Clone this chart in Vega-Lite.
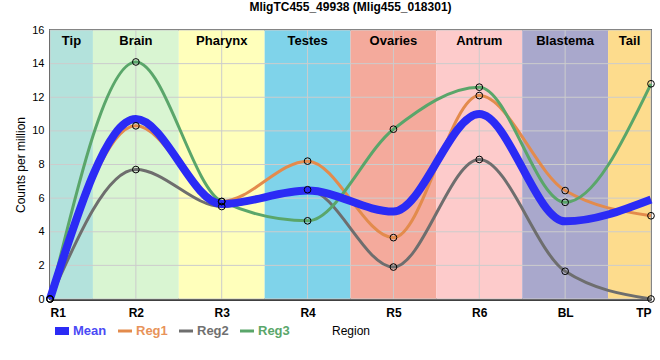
{
  "$schema": "https://vega.github.io/schema/vega-lite/v6.json",
  "autosize": "none",
  "width": 601,
  "height": 269,
  "padding": {"left": 50, "top": 30, "right": 9, "bottom": 61},
  "background": "white",
  "config": {
    "font": "Liberation Sans",
    "view": {"stroke": "black", "strokeWidth": 1.5},
    "title": {"font": "Liberation Sans", "fontSize": 12, "fontWeight": "bold", "color": "black"},
    "axisY": {"values": [0, 2, 4, 6, 8, 10, 12, 14, 16], "grid": false, "ticks": false,
      "domainColor": "black", "domainWidth": 2.5, "labelFontSize": 11, "labelColor": "black", "labelPadding": 6,
      "titleFontSize": 12, "titleFontWeight": "normal", "titleColor": "black", "titlePadding": 4, "labelOverlap": false}
  },
  "title": {"text": "MligTC455_49938 (Mlig455_018301)", "anchor": "middle", "offset": 10},
  "resolve": {"scale": {"color": "independent"}},
  "datasets": {
    "bands": [
      {"band": "Tip", "start": 0, "end": 0.5},
      {"band": "Brain", "start": 0.5, "end": 1.5},
      {"band": "Pharynx", "start": 1.5, "end": 2.5},
      {"band": "Testes", "start": 2.5, "end": 3.5},
      {"band": "Ovaries", "start": 3.5, "end": 4.5},
      {"band": "Antrum", "start": 4.5, "end": 5.5},
      {"band": "Blastema", "start": 5.5, "end": 6.5},
      {"band": "Tail", "start": 6.5, "end": 7}
    ],
    "xgrid": [{"v": 0}, {"v": 1}, {"v": 2}, {"v": 3}, {"v": 4}, {"v": 5}, {"v": 6}, {"v": 7}],
    "ygrid": [{"v": 0}, {"v": 2}, {"v": 4}, {"v": 6}, {"v": 8}, {"v": 10}, {"v": 12}, {"v": 14}, {"v": 16}],
    "counts": [
      {"region": "R1", "idx": 0, "series": "Reg1", "value": 0},
      {"region": "R2", "idx": 1, "series": "Reg1", "value": 10.3},
      {"region": "R3", "idx": 2, "series": "Reg1", "value": 5.8},
      {"region": "R4", "idx": 3, "series": "Reg1", "value": 8.2},
      {"region": "R5", "idx": 4, "series": "Reg1", "value": 3.65},
      {"region": "R6", "idx": 5, "series": "Reg1", "value": 12.1},
      {"region": "BL", "idx": 6, "series": "Reg1", "value": 6.45},
      {"region": "TP", "idx": 7, "series": "Reg1", "value": 4.95},
      {"region": "R1", "idx": 0, "series": "Reg2", "value": 0},
      {"region": "R2", "idx": 1, "series": "Reg2", "value": 7.7},
      {"region": "R3", "idx": 2, "series": "Reg2", "value": 5.5},
      {"region": "R4", "idx": 3, "series": "Reg2", "value": 6.5},
      {"region": "R5", "idx": 4, "series": "Reg2", "value": 1.9},
      {"region": "R6", "idx": 5, "series": "Reg2", "value": 8.3},
      {"region": "BL", "idx": 6, "series": "Reg2", "value": 1.65},
      {"region": "TP", "idx": 7, "series": "Reg2", "value": 0},
      {"region": "R1", "idx": 0, "series": "Reg3", "value": 0},
      {"region": "R2", "idx": 1, "series": "Reg3", "value": 14.1},
      {"region": "R3", "idx": 2, "series": "Reg3", "value": 5.8},
      {"region": "R4", "idx": 3, "series": "Reg3", "value": 4.65},
      {"region": "R5", "idx": 4, "series": "Reg3", "value": 10.1},
      {"region": "R6", "idx": 5, "series": "Reg3", "value": 12.6},
      {"region": "BL", "idx": 6, "series": "Reg3", "value": 5.75},
      {"region": "TP", "idx": 7, "series": "Reg3", "value": 12.8}
    ],
    "mean": [
      {"region": "R1", "idx": 0, "series": "Mean", "value": 0},
      {"region": "R2", "idx": 1, "series": "Mean", "value": 10.7},
      {"region": "R3", "idx": 2, "series": "Mean", "value": 5.65},
      {"region": "R4", "idx": 3, "series": "Mean", "value": 6.45},
      {"region": "R5", "idx": 4, "series": "Mean", "value": 5.2},
      {"region": "R6", "idx": 5, "series": "Mean", "value": 11.0},
      {"region": "BL", "idx": 6, "series": "Mean", "value": 4.62},
      {"region": "TP", "idx": 7, "series": "Mean", "value": 5.92}
    ]
  },
  "layer": [
    {
      "data": {"name": "bands"},
      "mark": {"type": "rect"},
      "encoding": {
        "x": {"field": "start", "type": "quantitative", "scale": {"domain": [0, 7], "nice": false, "zero": false},
          "axis": {"values": [0, 1, 2, 3, 4, 5, 6, 7], "labelExpr": "['R1','R2','R3','R4','R5','R6','BL','TP'][datum.value]",
            "grid": false, "ticks": false, "domainColor": "black", "domainWidth": 2.5, "labelFontSize": 12, "labelFontWeight": "bold",
            "labelColor": "black", "labelPadding": 8, "title": "Region", "titleFontSize": 12, "titleFontWeight": "normal",
            "titleColor": "black", "titleY": 26, "titleAnchor": "middle"}},
        "x2": {"field": "end"},
        "color": {"field": "band", "type": "nominal", "legend": null,
          "scale": {"domain": ["Tip", "Brain", "Pharynx", "Testes", "Ovaries", "Antrum", "Blastema", "Tail"],
            "range": ["#b3e2dc", "#d9f5d2", "#ffffbb", "#7fd3ea", "#f4aa9c", "#fdcbcb", "#a9a8cc", "#fddc8d"]}}
      }
    },
    {
      "data": {"name": "xgrid"},
      "mark": {"type": "rule", "color": "#cccccc", "strokeWidth": 1},
      "encoding": {"x": {"field": "v", "type": "quantitative"}}
    },
    {
      "data": {"name": "ygrid"},
      "mark": {"type": "rule", "color": "#cccccc", "strokeWidth": 1},
      "encoding": {"y": {"field": "v", "type": "quantitative", "scale": {"domain": [0, 16], "nice": false},
        "axis": {"title": "Counts per million"}}}
    },
    {
      "data": {"name": "bands"},
      "transform": [{"calculate": "(datum.start + datum.end) / 2", "as": "mid"}],
      "mark": {"type": "text", "fontSize": 13, "fontWeight": "bold", "color": "black", "baseline": "middle"},
      "encoding": {
        "x": {"field": "mid", "type": "quantitative"},
        "y": {"datum": 15.35},
        "text": {"field": "band"}
      }
    },
    {
      "mark": {"type": "rule", "color": "black", "strokeWidth": 2.5, "strokeDash": [6, 4]},
      "encoding": {"x": {"datum": 6.5}}
    },
    {
      "data": {"name": "counts"},
      "mark": {"type": "line", "interpolate": "monotone", "strokeWidth": 3},
      "encoding": {
        "x": {"field": "idx", "type": "quantitative"},
        "y": {"field": "value", "type": "quantitative"},
        "color": {"field": "series", "type": "nominal",
          "scale": {"domain": ["Mean", "Reg1", "Reg2", "Reg3"], "range": ["#2b2bf5", "#e38b4c", "#6e6e6e", "#5aa66a"]},
          "legend": null}
      }
    },
    {
      "data": {"name": "mean"},
      "mark": {"type": "line", "interpolate": "monotone", "strokeWidth": 8},
      "encoding": {
        "x": {"field": "idx", "type": "quantitative"},
        "y": {"field": "value", "type": "quantitative"},
        "color": {"field": "series", "type": "nominal",
          "scale": {"domain": ["Mean", "Reg1", "Reg2", "Reg3"], "range": ["#2b2bf5", "#e38b4c", "#6e6e6e", "#5aa66a"]},
          "legend": {"orient": "none", "legendX": 5, "legendY": 294, "direction": "horizontal", "title": null,
            "symbolType": "stroke", "symbolSize": 225, "symbolStrokeWidth": 3, "labelFontSize": 13, "labelFontWeight": "bold",
            "labelOffset": 5, "columnPadding": 11, "clipHeight": 14, "labelBaseline": "middle",
            "encode": {
              "labels": {"update": {"fill": {"signal": "datum.value === 'Mean' ? '#4a4af5' : datum.value === 'Reg1' ? '#e8935a' : datum.value === 'Reg2' ? '#707070' : '#5aa66a'"}}},
              "symbols": {"update": {"strokeWidth": {"signal": "datum.value === 'Mean' ? 8 : 3"}}}
            }}}
      }
    },
    {
      "data": {"name": "counts"},
      "mark": {"type": "point", "filled": false, "color": "black", "strokeWidth": 1, "size": 45, "opacity": 1},
      "encoding": {
        "x": {"field": "idx", "type": "quantitative"},
        "y": {"field": "value", "type": "quantitative"}
      }
    }
  ]
}
